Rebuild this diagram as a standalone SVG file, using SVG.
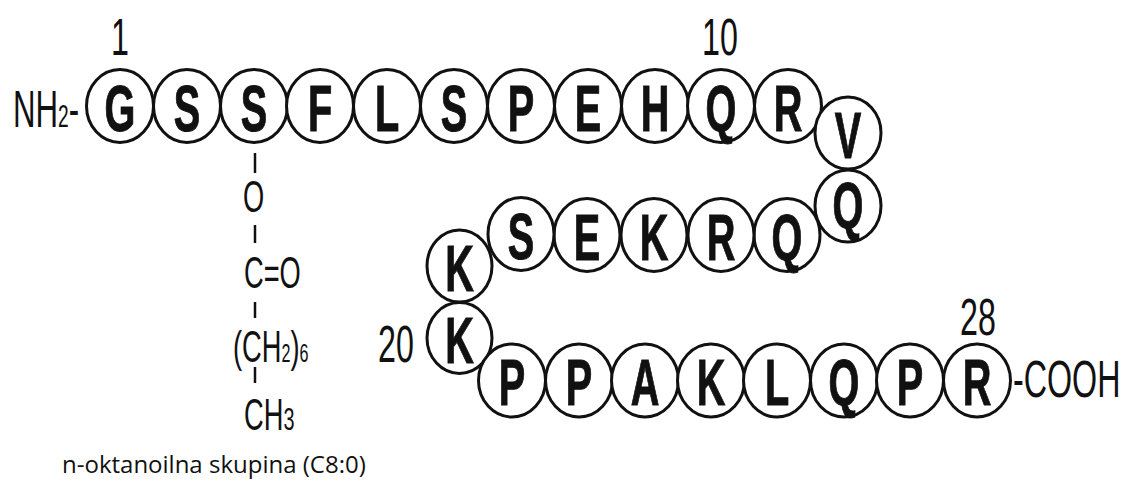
<svg xmlns="http://www.w3.org/2000/svg" width="1124" height="481" viewBox="0 0 1124 481">
<style>
.c{fill:#fff;stroke:#111;stroke-width:3}
.aa{font-family:"Liberation Sans",Arial,sans-serif;font-weight:bold;font-size:64px;text-anchor:middle;fill:#111;stroke:#111;stroke-width:1}
.lbl{font-family:"Liberation Sans",Arial,sans-serif;font-size:52px;fill:#111}
.mid{text-anchor:middle}
.sc{font-family:"Liberation Sans",Arial,sans-serif;font-size:44px;fill:#111}
.bond{stroke:#111;stroke-width:2.5;fill:none}
.cap{font-family:"Open Sans","Liberation Sans",sans-serif;font-size:24px;fill:#111}
</style>
<rect width="1124" height="481" fill="#fff"/>
<g id="connectors">
<line class="bond" x1="255" y1="153" x2="255" y2="173"/>
<line class="bond" x1="255" y1="225" x2="255" y2="243"/>
<line class="bond" x1="255" y1="302" x2="255" y2="318"/>
<line class="bond" x1="255" y1="367" x2="255" y2="383"/>
</g>
<g id="r1" transform="translate(120,106)"><ellipse class="c" rx="33.5" ry="36.5"/><text class="aa" y="24.5" transform="scale(0.62,1)">G</text></g>
<g id="r2" transform="translate(187,106)"><ellipse class="c" rx="33.5" ry="36.5"/><text class="aa" y="24.5" transform="scale(0.62,1)">S</text></g>
<g id="r3" transform="translate(254,106)"><ellipse class="c" rx="33.5" ry="36.5"/><text class="aa" y="24.5" transform="scale(0.62,1)">S</text></g>
<g id="r4" transform="translate(320,106)"><ellipse class="c" rx="33.5" ry="36.5"/><text class="aa" y="24.5" transform="scale(0.62,1)">F</text></g>
<g id="r5" transform="translate(387,106)"><ellipse class="c" rx="33.5" ry="36.5"/><text class="aa" y="24.5" transform="scale(0.62,1)">L</text></g>
<g id="r6" transform="translate(454,106)"><ellipse class="c" rx="33.5" ry="36.5"/><text class="aa" y="24.5" transform="scale(0.62,1)">S</text></g>
<g id="r7" transform="translate(521,106)"><ellipse class="c" rx="33.5" ry="36.5"/><text class="aa" y="24.5" transform="scale(0.62,1)">P</text></g>
<g id="r8" transform="translate(588,106)"><ellipse class="c" rx="33.5" ry="36.5"/><text class="aa" y="24.5" transform="scale(0.62,1)">E</text></g>
<g id="r9" transform="translate(655,106)"><ellipse class="c" rx="33.5" ry="36.5"/><text class="aa" y="24.5" transform="scale(0.62,1)">H</text></g>
<g id="r10" transform="translate(721,106)"><ellipse class="c" rx="33.5" ry="36.5"/><text class="aa" y="24.5" transform="scale(0.62,1)">Q</text></g>
<g id="r11" transform="translate(788,106)"><ellipse class="c" rx="33.5" ry="36.5"/><text class="aa" y="24.5" transform="scale(0.62,1)">R</text></g>
<g id="r12" transform="translate(848,133)"><ellipse class="c" rx="33" ry="36"/><text class="aa" y="24.5" transform="scale(0.62,1)">V</text></g>
<g id="r13" transform="translate(848,206)"><ellipse class="c" rx="33" ry="36"/><text class="aa" y="22" transform="scale(0.62,1)">Q</text></g>
<g id="r14" transform="translate(787,235)"><ellipse class="c" rx="33" ry="36.5"/><text class="aa" y="24.5" transform="scale(0.62,1)">Q</text></g>
<g id="r15" transform="translate(721,235)"><ellipse class="c" rx="33" ry="36.5"/><text class="aa" y="24.5" transform="scale(0.62,1)">R</text></g>
<g id="r16" transform="translate(654,235)"><ellipse class="c" rx="33" ry="36.5"/><text class="aa" y="24.5" transform="scale(0.62,1)">K</text></g>
<g id="r17" transform="translate(587,235)"><ellipse class="c" rx="33" ry="36.5"/><text class="aa" y="24.5" transform="scale(0.62,1)">E</text></g>
<g id="r18" transform="translate(521,234)"><ellipse class="c" rx="33" ry="36.5"/><text class="aa" y="24.5" transform="scale(0.62,1)">S</text></g>
<g id="r19" transform="translate(459.5,266)"><ellipse class="c" rx="32.5" ry="36"/><text class="aa" y="24.5" transform="scale(0.62,1)">K</text></g>
<g id="r20" transform="translate(459.5,338)"><ellipse class="c" rx="32.5" ry="35.5"/><text class="aa" y="24.5" transform="scale(0.62,1)">K</text></g>
<g id="r21" transform="translate(512,380.5)"><ellipse class="c" rx="33.5" ry="36.5"/><text class="aa" y="24.5" transform="scale(0.62,1)">P</text></g>
<g id="r22" transform="translate(579,380.5)"><ellipse class="c" rx="33.5" ry="36.5"/><text class="aa" y="24.5" transform="scale(0.62,1)">P</text></g>
<g id="r23" transform="translate(645,380.5)"><ellipse class="c" rx="33.5" ry="36.5"/><text class="aa" y="24.5" transform="scale(0.62,1)">A</text></g>
<g id="r24" transform="translate(711,380.5)"><ellipse class="c" rx="33.5" ry="36.5"/><text class="aa" y="24.5" transform="scale(0.62,1)">K</text></g>
<g id="r25" transform="translate(777,380.5)"><ellipse class="c" rx="33.5" ry="36.5"/><text class="aa" y="24.5" transform="scale(0.62,1)">L</text></g>
<g id="r26" transform="translate(844,380.5)"><ellipse class="c" rx="33.5" ry="36.5"/><text class="aa" y="24.5" transform="scale(0.62,1)">Q</text></g>
<g id="r27" transform="translate(910,380.5)"><ellipse class="c" rx="33.5" ry="36.5"/><text class="aa" y="24.5" transform="scale(0.62,1)">P</text></g>
<g id="r28" transform="translate(977,380.5)"><ellipse class="c" rx="33.5" ry="36.5"/><text class="aa" y="24.5" transform="scale(0.62,1)">R</text></g>
<g id="labels">
<text class="lbl mid" transform="translate(120,55) scale(0.62,1)">1</text>
<text class="lbl mid" transform="translate(720,55) scale(0.62,1)">10</text>
<text class="lbl mid" transform="translate(396,362) scale(0.62,1)">20</text>
<text class="lbl mid" transform="translate(978,335) scale(0.62,1)">28</text>
<text class="lbl" font-size="56" transform="translate(13,127) scale(0.6,1)">NH<tspan font-size="32">2</tspan>-</text>
<text class="lbl" transform="translate(1013,397) scale(0.62,1)">-COOH</text>
</g>
<g id="sidechain">
<text class="sc mid" transform="translate(253.5,212) scale(0.62,1)">O</text>
<text class="sc" transform="translate(244,288) scale(0.62,1)">C=O</text>
<text class="sc" transform="translate(233,362) scale(0.62,1)">(CH<tspan font-size="26">2</tspan>)<tspan font-size="26">6</tspan></text>
<text class="sc" transform="translate(244,430) scale(0.62,1)">CH<tspan font-size="32">3</tspan></text>
</g>
<text id="caption" class="cap" x="62" y="473">n-oktanoilna skupina (C8:0)</text>
</svg>
